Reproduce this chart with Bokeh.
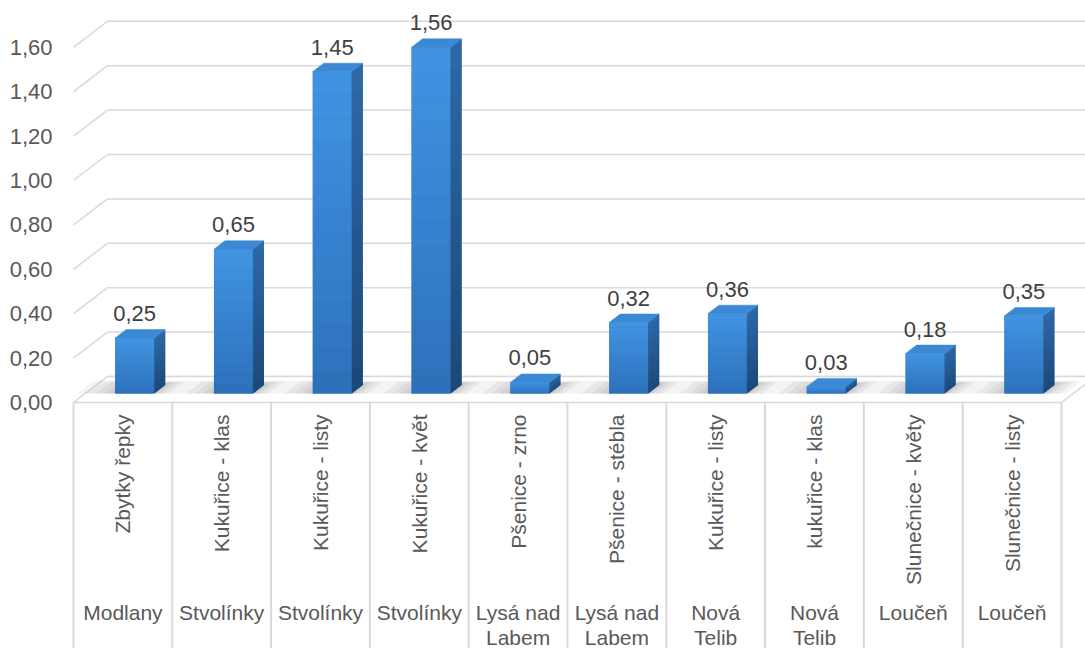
import numpy as np
from bokeh.plotting import figure
from bokeh.models import Range1d, FixedTicker, CustomJSTickFormatter, ColumnDataSource
from bokeh.core.properties import value
from bokeh.embed import file_html
from bokeh.resources import INLINE

# ---- data -------------------------------------------------------------
items = ["Zbytky řepky", "Kukuřice - klas", "Kukuřice - listy", "Kukuřice - květ",
         "Pšenice - zrno", "Pšenice - stébla", "Kukuřice - listy", "kukuřice - klas",
         "Slunečnice - květy", "Slunečnice - listy"]
groups = ["Modlany", "Stvolínky", "Stvolínky", "Stvolínky",
          "Lysá nad\nLabem", "Lysá nad\nLabem", "Nová\nTelib", "Nová\nTelib",
          "Loučeň", "Loučeň"]
values = [0.25, 0.65, 1.45, 1.56, 0.05, 0.32, 0.36, 0.03, 0.18, 0.35]
y_ticks = [0.0, 0.2, 0.4, 0.6, 0.8, 1.0, 1.2, 1.4, 1.6]

# ---- geometry (pixels) -------------------------------------------------
W, H = 1085, 648
LEFT = 60             # left edge of the plot frame
FLOOR_X = 73          # front-left corner of the floor
FLOOR_Y = 402         # front edge of the floor (from top)
CAT_PX = 98.8         # width of one category
VAL_PX = 222.0        # pixels per unit of value
DEPTH_DX, DEPTH_DY = 34.0, 26.0   # front -> back wall offset
BAR_W = 39.0          # bar front face width
F1, F2 = 0.346, 0.67  # depth fractions of bar front / back faces

FONT = "Liberation Sans"
GRID = "#D9D9D9"

n = len(values)
px_x = 1.0 / CAT_PX
px_y = 1.0 / VAL_PX
DX = DEPTH_DX * px_x
DY = DEPTH_DY * px_y
x_start, x_end = -(FLOOR_X - LEFT) * px_x, (W - FLOOR_X) * px_x
y_start, y_end = -(H - FLOOR_Y) * px_y, FLOOR_Y * px_y

p = figure(width=W, height=H, output_backend="svg", toolbar_location=None,
           x_range=Range1d(x_start, x_end), y_range=Range1d(y_start, y_end),
           x_axis_type=None, min_border_left=LEFT, min_border_right=0,
           min_border_top=0, min_border_bottom=0)
p.outline_line_color = None
p.grid.grid_line_color = None
p.background_fill_color = "white"
p.border_fill_color = "white"

ax = p.yaxis[0]
ax.ticker = FixedTicker(ticks=y_ticks)
ax.formatter = CustomJSTickFormatter(code="return tick.toFixed(2).replace('.', ',');")
ax.axis_line_color = None
ax.major_tick_line_color = None
ax.minor_tick_line_color = None
ax.major_tick_out = 0
ax.major_tick_in = 0
ax.major_label_standoff = 8
ax.major_label_text_font = FONT
ax.major_label_text_font_size = "22px"
ax.major_label_text_color = "#595959"

# ---- walls: back-wall gridlines and side-wall diagonals -----------------
p.multi_line(xs=[[DX, x_end + 1] for v in y_ticks],
             ys=[[v + DY, v + DY] for v in y_ticks],
             line_color=GRID, line_width=1.5)
p.multi_line(xs=[[0, DX] for v in y_ticks],
             ys=[[v, v + DY] for v in y_ticks],
             line_color=GRID, line_width=1.5)

# ---- floor --------------------------------------------------------------
p.patch([0, n, n + DX, DX], [0, 0, DY, DY], fill_color="white",
        line_color=GRID, line_width=1.5)

# ---- category table dividers ----------------------------------------------
p.segment(x0=list(range(n + 1)), y0=[0] * (n + 1),
          x1=list(range(n + 1)), y1=[y_start] * (n + 1),
          line_color=GRID, line_width=2)


def mix(c1, c2, t):
    a = np.array([int(c1[i:i + 2], 16) for i in (1, 3, 5)], float)
    b = np.array([int(c2[i:i + 2], 16) for i in (1, 3, 5)], float)
    c = a + (b - a) * t
    return "#%02x%02x%02x" % tuple(int(round(x)) for x in c)


hw = BAR_W / 2 * px_x
centers = [i + 0.5 for i in range(n)]

# ---- soft floor shadows around each bar ---------------------------------
sh_xs, sh_ys = [], []
for c in centers:
    for el, er, fb in [(38, 22, 0.84), (28, 15, 0.81), (19, 9, 0.79),
                       (11, 5, 0.77), (5, 2, 0.75)]:
        xl = c - hw - el * px_x
        xr = c + hw + er * px_x
        fa = F1
        sh_xs.append([xl + fa * DX, xr + fa * DX, xr + fb * DX, xl + fb * DX])
        sh_ys.append([fa * DY, fa * DY, fb * DY, fb * DY])
p.patches(sh_xs, sh_ys, fill_color="#5a5a5a", fill_alpha=0.075, line_color=None)

# ---- 3D bars ------------------------------------------------------------
STRIPS = 14
base = dict(left=[], right=[], top=[], bottom=[])
fr = dict(left=[], right=[], top=[], bottom=[], color=[])
sbase = dict(xs=[], ys=[])
sd = dict(xs=[], ys=[], color=[])
tp = dict(xs=[], ys=[])
for c, v in zip(centers, values):
    l1, r1 = c - hw + F1 * DX, c + hw + F1 * DX
    l2, r2 = c - hw + F2 * DX, c + hw + F2 * DX
    b1, b2 = F1 * DY, F2 * DY
    base["left"].append(l1)
    base["right"].append(r1)
    base["top"].append(b1 + v)
    base["bottom"].append(b1)
    sbase["xs"].append([r1, r2, r2, r1])
    sbase["ys"].append([b1, b2, b2 + v, b1 + v])
    for k in range(STRIPS):
        t0 = k / STRIPS
        t1 = (k + 1) / STRIPS
        fr["left"].append(l1)
        fr["right"].append(r1)
        fr["top"].append(b1 + v * (1 - t0))
        fr["bottom"].append(b1 + v * (1 - t1))
        fr["color"].append(mix("#4194E2", "#2D70BA", (t0 + t1) / 2))
        sd["xs"].append([r1, r2, r2, r1])
        sd["ys"].append([b1 + v * (1 - t1), b2 + v * (1 - t1),
                         b2 + v * (1 - t0), b1 + v * (1 - t0)])
        sd["color"].append(mix("#2E69A9", "#1C4878", (t0 + t1) / 2))
    tp["xs"].append([l1, r1, r2, l2])
    tp["ys"].append([b1 + v, b1 + v, b2 + v, b2 + v])

p.quad(source=ColumnDataSource(base), left="left", right="right", top="top",
       bottom="bottom", fill_color="#3680CC", line_color=None)
p.quad(source=ColumnDataSource(fr), left="left", right="right", top="top",
       bottom="bottom", fill_color="color", line_color=None)
p.patches(source=ColumnDataSource(sbase), xs="xs", ys="ys", fill_color="#255C94",
          line_color=None)
p.patches(source=ColumnDataSource(sd), xs="xs", ys="ys", fill_color="color",
          line_color=None)
p.patches(source=ColumnDataSource(tp), xs="xs", ys="ys", fill_color="#3B88D4",
          line_color="#3B88D4", line_width=0.5)

# ---- value labels ---------------------------------------------------------
p.text(x=[c + F1 * DX for c in centers],
       y=[v + F2 * DY + 16 * px_y for v in values],
       text=[f"{v:.2f}".replace(".", ",") for v in values],
       text_font=value(FONT), text_font_size="22px", text_color="#404040",
       text_align="center", text_baseline="alphabetic")

# ---- two-level category labels --------------------------------------------
p.text(x=centers, y=[-12 * px_y] * n, text=items, angle=np.pi / 2,
       text_font=value(FONT), text_font_size="21px", text_color="#595959",
       text_align="right", text_baseline="middle")
p.text(x=centers, y=[-(600 - FLOOR_Y) * px_y] * n, text=groups,
       text_font=value(FONT), text_font_size="21px", text_color="#595959",
       text_align="center", text_baseline="top", text_line_height=1.1)

open("out.html", "w").write(file_html(p, INLINE))
